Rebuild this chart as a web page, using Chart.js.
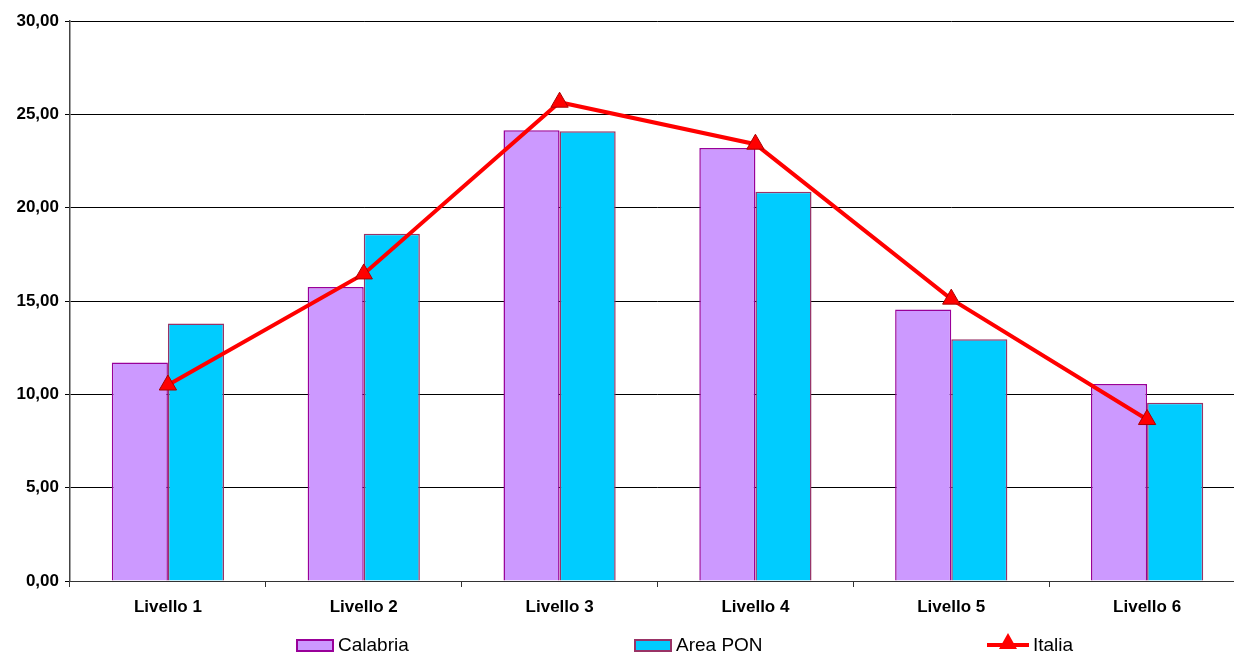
<!DOCTYPE html>
<html>
<head>
<meta charset="utf-8">
<script src="https://cdn.jsdelivr.net/npm/chart.js@4.4.1/dist/chart.umd.min.js"></script>
<style>
  html, body { margin: 0; padding: 0; background: #fff; }
  #wrap { position: relative; width: 1234px; height: 655px; overflow: hidden; }
  #legend { position: absolute; left: 0; top: 635px; width: 1234px; height: 20px;
            font-family: "Liberation Sans", Arial, sans-serif; font-size: 19px; color: #000; }
  .item { position: absolute; top: 0; display: flex; align-items: center; height: 20px; }
  .box { width: 38px; height: 13px; margin-right: 4px; box-sizing: border-box; border: 2px solid; }
  .line { position: relative; width: 42px; height: 4px; margin-right: 4px; }
  .tri { position: absolute; left: 12px; top: -10px; width: 0; height: 0;
         border-left: 9px solid transparent; border-right: 9px solid transparent; border-bottom: 16px solid #f00; }
</style>
</head>
<body>
<div id="wrap">
  <canvas id="chart" width="1256" height="655"></canvas>
  <div id="legend"></div>
</div>
<script>
// Categorie e valori
const categorie = ['Livello 1', 'Livello 2', 'Livello 3', 'Livello 4', 'Livello 5', 'Livello 6'];
const calabria = [11.70, 15.75, 24.15, 23.20, 14.55, 10.55];
const areaPon = [13.80, 18.60, 24.10, 20.85, 12.95, 9.55];
const italia = [10.50, 16.45, 25.65, 23.40, 15.10, 8.65];

const serie = [
    { label: 'Calabria', data: calabria, fill: '#cc99ff', border: '#990099', left: 296 },
    { label: 'Area PON', data: areaPon, fill: '#00ccff', border: '#993366', left: 634 },
    { label: 'Italia', data: italia, fill: '#ff0000', border: '#cc0000', left: 987 }
];

const fmt = v => v.toFixed(2).replace('.', ',');
const tickFont = { family: '"Liberation Sans", Arial, sans-serif', size: 17, weight: 'bold' };

const ctx = document.getElementById('chart').getContext('2d');
new Chart(ctx, {
    type: 'bar',
    data: {
        labels: categorie,
        datasets: [
            {
                type: 'line',
                label: serie[2].label,
                data: italia,
                borderColor: '#ff0000',
                backgroundColor: '#ff0000',
                borderWidth: 4,
                pointStyle: 'triangle',
                pointRadius: 10,
                pointBorderColor: '#aa0000',
                pointBorderWidth: 1,
                pointBackgroundColor: '#ff0000',
                tension: 0,
                order: 0
            },
            {
                label: serie[0].label,
                data: calabria,
                backgroundColor: serie[0].fill,
                borderColor: serie[0].border,
                borderWidth: 1.5,
                order: 1
            },
            {
                label: serie[1].label,
                data: areaPon,
                backgroundColor: serie[1].fill,
                borderColor: serie[1].border,
                borderWidth: 1.5,
                order: 1
            }
        ]
    },
    options: {
        responsive: false,
        animation: false,
        layout: { padding: { top: 21, right: 0, bottom: 19, left: 0 } },
        datasets: { bar: { barPercentage: 1, categoryPercentage: 0.573 } },
        plugins: { legend: { display: false }, tooltip: { enabled: false } },
        scales: {
            x: {
                afterFit: s => { s.height = 55; },
                grid: { display: true, drawOnChartArea: false, color: '#333', tickLength: 6, offset: true },
                border: { display: true, color: '#333', width: 1 },
                ticks: { color: '#000', font: tickFont, padding: 10 }
            },
            y: {
                min: 0,
                max: 30,
                afterFit: s => { s.width = 70; },
                grid: { color: '#000', lineWidth: 1, tickLength: 5 },
                border: { display: true, color: '#444', width: 1.5 },
                ticks: {
                    stepSize: 5,
                    color: '#000',
                    font: tickFont,
                    padding: 6,
                    callback: v => fmt(v)
                }
            }
        }
    }
});

// Legenda in HTML
const legend = document.getElementById('legend');
serie.forEach((s, i) => {
    const item = document.createElement('div');
    item.className = 'item';
    item.style.left = s.left + 'px';
    const mark = document.createElement('div');
    if (i < 2) {
        mark.className = 'box';
        mark.style.background = s.fill;
        mark.style.borderColor = s.border;
    } else {
        mark.className = 'line';
        mark.style.background = s.fill;
        const tri = document.createElement('div');
        tri.className = 'tri';
        mark.appendChild(tri);
    }
    item.appendChild(mark);
    const txt = document.createElement('span');
    txt.textContent = s.label;
    item.appendChild(txt);
    legend.appendChild(item);
});
</script>
</body>
</html>
